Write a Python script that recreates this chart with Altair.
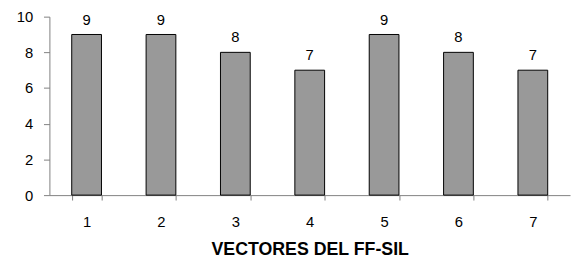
import altair as alt
import pandas as pd

categories = ["1", "2", "3", "4", "5", "6", "7"]
values = [9, 9, 8, 7, 9, 8, 7]

df = pd.DataFrame({"cat": categories, "val": values})

font = "Liberation Sans"

base = alt.Chart(df).encode(
    x=alt.X("cat:N", sort=categories,
            scale=alt.Scale(paddingInner=0.6, paddingOuter=0.3),
            axis=alt.Axis(title="VECTORES DEL FF-SIL", labelAngle=0, tickBand="extent",
                          labelFont=font, labelFontSize=15, labelColor="black", labelPadding=15,
                          titleFont=font, titleFontSize=18, titleFontWeight="bold", titleColor="black",
                          titlePadding=11, domainColor="#808080", tickColor="#808080", tickSize=5,
                          grid=False)),
    y=alt.Y("val:Q", scale=alt.Scale(domain=[0, 10], nice=False),
            axis=alt.Axis(title=None, values=[0, 2, 4, 6, 8, 10], labelFont=font, labelFontSize=15,
                          labelColor="black", labelPadding=11, domainColor="#808080",
                          tickColor="#808080", tickSize=6, grid=False)),
)

bars = base.mark_bar(color="#999999", stroke="black", strokeWidth=1)
text = base.mark_text(baseline="bottom", dy=-7, font=font, fontSize=15, color="black").encode(
    text="val:Q")

chart = (bars + text).properties(
    width=528, height=181,
    autosize=alt.AutoSizeParams(type="none"),
    padding={"left": 42, "top": 7, "right": 2, "bottom": 62},
).configure_view(stroke=None)

chart.save("out.html", embed_options={"renderer": "svg", "actions": False})
